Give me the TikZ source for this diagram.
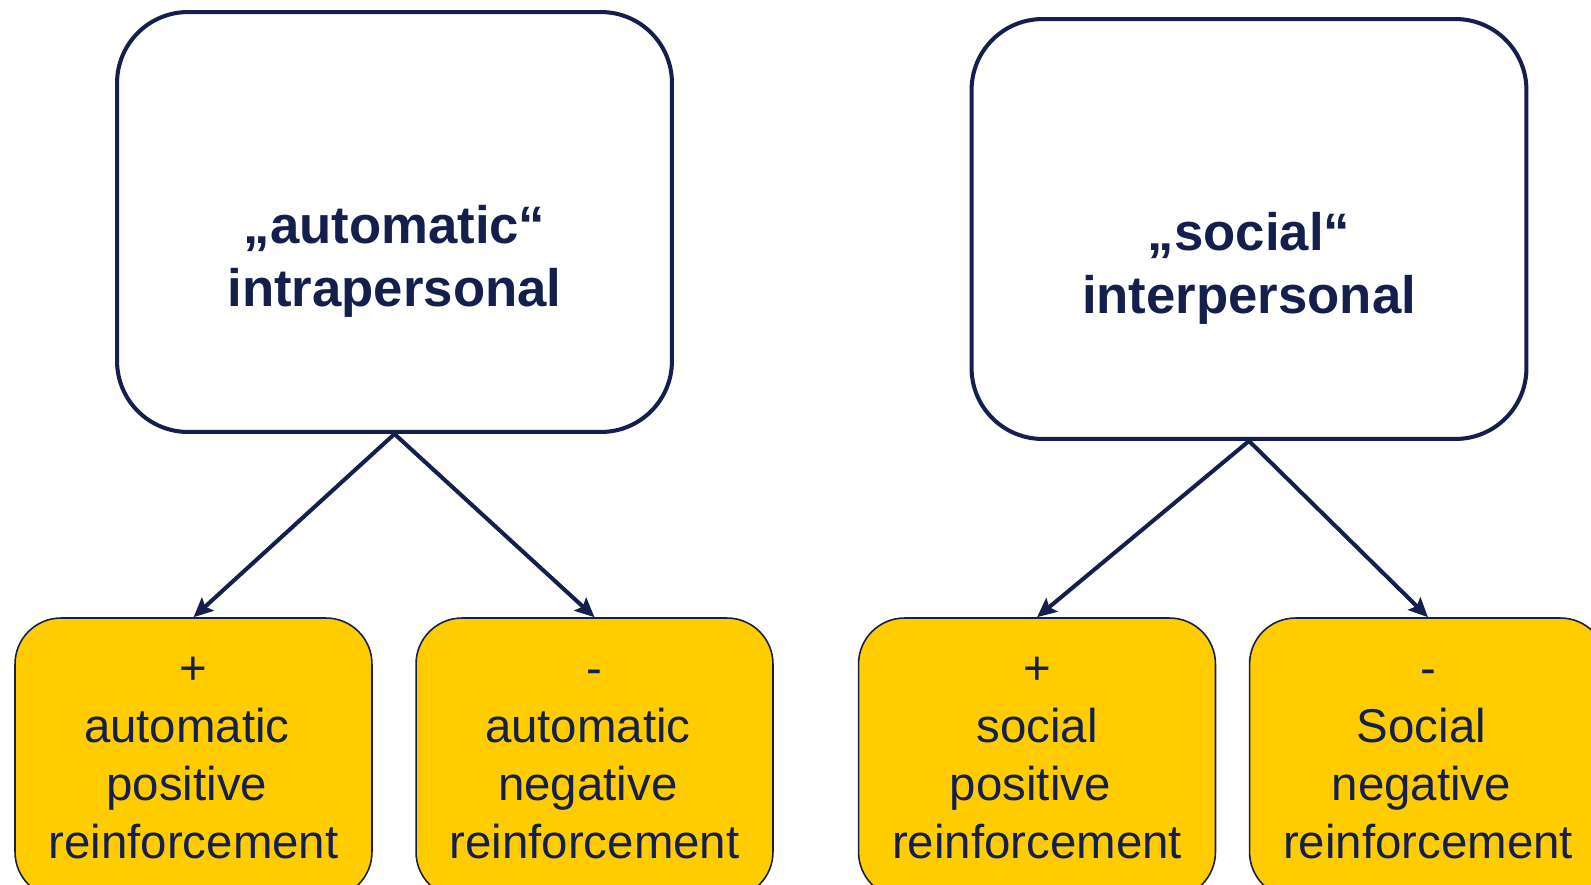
\documentclass[tikz,border=0pt]{standalone}
\usepackage{fontspec}
\setmainfont{Liberation Sans}
\usetikzlibrary{arrows.meta}
\definecolor{abnavy}{RGB}{20, 31, 78}
\definecolor{abyellow}{RGB}{255, 204, 0}
\newcommand{\tsp}{\kern0.28em}

\begin{document}
\begin{tikzpicture}[x=0.02cm, y=-0.02cm,
  topbox/.style={draw=abnavy, line width=2.3pt, rounded corners=1.42cm,
    minimum width=11.1cm, minimum height=8.4cm, inner sep=0pt},
  toptext/.style={text=abnavy, align=center,
    font=\fontsize{30}{35.7}\selectfont\bfseries},
  subbox/.style={draw=abnavy, fill=abyellow, line width=0.9pt, rounded corners=0.92cm,
    minimum width=7.14cm, minimum height=5.6cm, inner sep=0pt,
    text=abnavy, align=center, font=\fontsize{27}{33}\selectfont},
  link/.style={-{Stealth[length=11pt, width=10pt, inset=2pt]}, line width=2.3pt, abnavy}]
\path[use as bounding box, clip] (0,0) rectangle (1591,885);

% Automatic
\node[topbox] (auto) at (394.5,222) {};
\node[toptext] (autolbl) at (394.5,261.5) {„automatic“\\intrapersonal};
\node[subbox] (autopos) at (193.5,758) {+\\automatic\tsp\\positive\tsp\\reinforcement};
\node[subbox] (autoneg) at (594.5,758) {\vphantom{+}-\\automatic\tsp\\negative\tsp\\reinforcement};

% Social
\node[topbox] (soc) at (1249,229) {};
\node[toptext] (soclbl) at (1249,268.5) {„social“\\interpersonal};
\node[subbox] (socpos) at (1037,758) {+\\social\\positive\tsp\\reinforcement};
\node[subbox] (socneg) at (1428,758) {\vphantom{+}-\\Social\tsp\\negative\tsp\\reinforcement};

% Arrows
\draw[link] (auto.south) -- (autopos.north);
\draw[link] (auto.south) -- (autoneg.north);
\draw[link] (soc.south) -- (socpos.north);
\draw[link] (soc.south) -- (socneg.north);
\end{tikzpicture}
\end{document}
